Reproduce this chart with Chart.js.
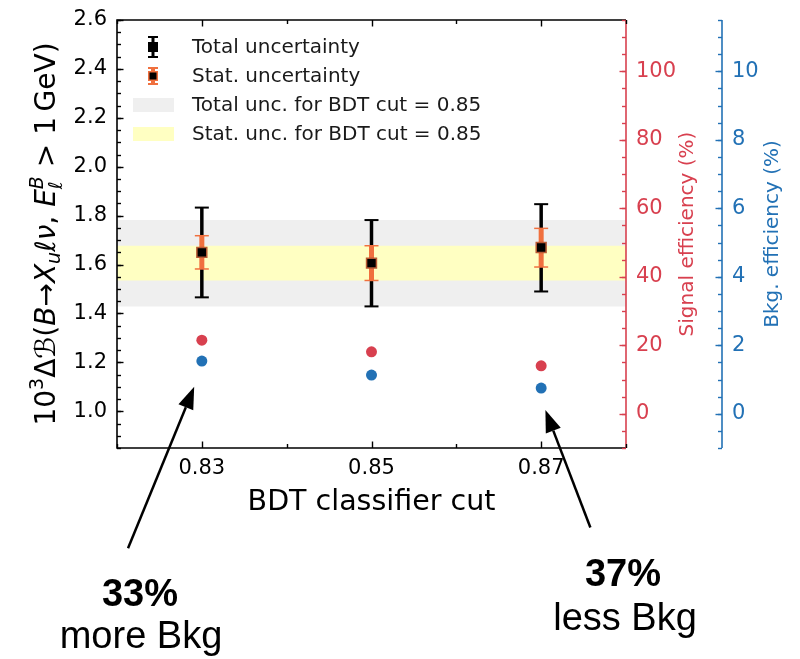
<!DOCTYPE html>
<html lang="en">
<head>
<meta charset="UTF-8">
<title>BDT cut scan</title>
<script src="https://cdn.jsdelivr.net/npm/chart.js"></script>
<style>
  html, body { margin: 0; padding: 0; background: #fff; }
</style>
</head>
<body>
<canvas id="chart" width="800" height="659"></canvas>
<script>
// values
const cuts = [0.83, 0.85, 0.87];
const central = [1.650, 1.606, 1.670];
const totalLow = [1.466, 1.429, 1.490];
const totalHigh = [1.833, 1.782, 1.847];
const statLow = [1.582, 1.535, 1.590];
const statHigh = [1.718, 1.677, 1.748];
const signalEff = [21.5, 18.1, 14.0];
const bkgEff = [1.54, 1.13, 0.75];
const refIndex = 1; // bands are the 0.85 cut

const xTicks = [0.83, 0.85, 0.87];
const leftTicks = [1.0, 1.2, 1.4, 1.6, 1.8, 2.0, 2.2, 2.4, 2.6];
const sigTicks = [0, 20, 40, 60, 80, 100];
const bkgTicks = [0, 2, 4, 6, 8, 10];
const legendLabels = ["Total uncertainty", "Stat. uncertainty",
    "Total unc. for BDT cut = 0.85", "Stat. unc. for BDT cut = 0.85"];

const RED = "#d8404f";
const BLUE = "#2271b5";
const ORANGE = "#f0703e";
const GREY_BAND = "#efefef";
const YELLOW_BAND = "#ffffc2";
const FONT = "'DejaVu Sans', sans-serif";

function steps(a, b, s) {
    let out = [];
    for (let i = 0; a + i * s <= b + 1e-9; i++) out.push(+(a + i * s).toFixed(4));
    return out;
}

function drawErrorBars(chart) {
    const ctx = chart.ctx, x = chart.scales.x, y = chart.scales.y;
    ctx.save();
    cuts.forEach((c, i) => {
        const px = x.getPixelForValue(c);
        // total
        ctx.strokeStyle = "#000";
        ctx.lineWidth = 3.5;
        ctx.beginPath();
        ctx.moveTo(px, y.getPixelForValue(totalLow[i]));
        ctx.lineTo(px, y.getPixelForValue(totalHigh[i]));
        ctx.stroke();
        ctx.lineWidth = 2;
        [totalLow[i], totalHigh[i]].forEach(v => {
            const py = y.getPixelForValue(v);
            ctx.beginPath(); ctx.moveTo(px - 7, py); ctx.lineTo(px + 7, py); ctx.stroke();
        });
        // stat
        ctx.strokeStyle = ORANGE;
        ctx.lineWidth = 5;
        ctx.beginPath();
        ctx.moveTo(px, y.getPixelForValue(statLow[i]));
        ctx.lineTo(px, y.getPixelForValue(statHigh[i]));
        ctx.stroke();
        ctx.lineWidth = 1.5;
        [statLow[i], statHigh[i]].forEach(v => {
            const py = y.getPixelForValue(v);
            ctx.beginPath(); ctx.moveTo(px - 7, py); ctx.lineTo(px + 7, py); ctx.stroke();
        });
    });
    ctx.restore();
}

// rich text: segments {t, size, italic, dy, stack}
function richWidth(ctx, segs) {
    let w = 0;
    segs.forEach(s => {
        ctx.font = (s.italic ? "italic " : "") + s.size + "px " + FONT;
        let sw = ctx.measureText(s.t).width;
        if (s.stack) {
            ctx.font = (s.stack.italic ? "italic " : "") + s.stack.size + "px " + FONT;
            sw = Math.max(sw, ctx.measureText(s.stack.t).width);
        }
        w += sw;
    });
    return w;
}
function drawRich(ctx, segs, cx, by) {
    let x = cx - richWidth(ctx, segs) / 2;
    ctx.textAlign = "left";
    ctx.textBaseline = "alphabetic";
    segs.forEach(s => {
        ctx.font = (s.italic ? "italic " : "") + s.size + "px " + FONT;
        let sw = ctx.measureText(s.t).width;
        ctx.fillText(s.t, x, by + (s.dy || 0));
        if (s.stack) {
            ctx.font = (s.stack.italic ? "italic " : "") + s.stack.size + "px " + FONT;
            sw = Math.max(sw, ctx.measureText(s.stack.t).width);
            ctx.fillText(s.stack.t, x, by + s.stack.dy);
        }
        x += sw;
    });
}

function drawArrow(ctx, x0, y0, x1, y1) {
    const ang = Math.atan2(y1 - y0, x1 - x0), L = 22, W = 8;
    const bx = x1 - L * Math.cos(ang), by = y1 - L * Math.sin(ang);
    ctx.strokeStyle = "#000"; ctx.fillStyle = "#000"; ctx.lineWidth = 2.5;
    ctx.beginPath(); ctx.moveTo(x0, y0); ctx.lineTo(bx, by); ctx.stroke();
    ctx.beginPath();
    ctx.moveTo(x1, y1);
    ctx.lineTo(bx + W * Math.sin(ang), by - W * Math.cos(ang));
    ctx.lineTo(bx - W * Math.sin(ang), by + W * Math.cos(ang));
    ctx.closePath(); ctx.fill();
}

const decor = {
    id: "decor",
    afterDatasetDraw(chart, args) {
        if (chart.data.datasets[args.index].tag === "statBand") drawErrorBars(chart);
    },
    afterDraw(chart) {
        const ctx = chart.ctx, a = chart.chartArea;
        const x = chart.scales.x, y = chart.scales.y, ys = chart.scales.ySig, yb = chart.scales.yBkg;
        const blueX = a.right + 96;
        ctx.save();

        // spines
        ctx.lineWidth = 1.6;
        ctx.strokeStyle = "#000";
        ctx.beginPath();
        ctx.moveTo(a.right, a.top); ctx.lineTo(a.left, a.top);
        ctx.lineTo(a.left, a.bottom); ctx.lineTo(a.right, a.bottom);
        ctx.stroke();
        ctx.strokeStyle = RED;
        ctx.beginPath(); ctx.moveTo(a.right, a.top); ctx.lineTo(a.right, a.bottom); ctx.stroke();
        ctx.strokeStyle = BLUE;
        ctx.beginPath(); ctx.moveTo(blueX, a.top); ctx.lineTo(blueX, a.bottom); ctx.stroke();

        // ticks (pointing inwards)
        const vt = (sc, xs, vals, len, dir, col) => {
            ctx.strokeStyle = col; ctx.lineWidth = 1.4;
            vals.forEach(v => {
                const py = Math.round(sc.getPixelForValue(v)) + 0.5;
                if (py < a.top - 1 || py > a.bottom + 1) return;
                ctx.beginPath(); ctx.moveTo(xs, py); ctx.lineTo(xs + dir * len, py); ctx.stroke();
            });
        };
        vt(y, a.left, steps(0.85, 2.6, 0.05), 4, 1, "#000");
        vt(y, a.left, leftTicks, 6.5, 1, "#000");
        vt(ys, a.right, steps(-10, 115, 5), 4, -1, RED);
        vt(ys, a.right, sigTicks, 6.5, -1, RED);
        vt(yb, blueX, steps(-1, 11.5, 0.5), 4, -1, BLUE);
        vt(yb, blueX, bkgTicks, 6.5, -1, BLUE);
        ctx.strokeStyle = "#000";
        steps(0.82, 0.88, 0.01).forEach(v => {
            const px = Math.round(x.getPixelForValue(v)) + 0.5;
            const len = xTicks.some(t => Math.abs(t - v) < 1e-6) ? 6.5 : 4;
            ctx.beginPath(); ctx.moveTo(px, a.bottom); ctx.lineTo(px, a.bottom - len); ctx.stroke();
            ctx.beginPath(); ctx.moveTo(px, a.top); ctx.lineTo(px, a.top + len); ctx.stroke();
        });

        // tick labels
        ctx.font = "21px " + FONT;
        ctx.fillStyle = "#000";
        ctx.textAlign = "right"; ctx.textBaseline = "middle";
        leftTicks.forEach(v => ctx.fillText(v.toFixed(1), a.left - 10, y.getPixelForValue(v)));
        ctx.textAlign = "center";
        xTicks.forEach(v => ctx.fillText(v.toFixed(2), x.getPixelForValue(v), a.bottom + 21));
        ctx.textAlign = "left";
        ctx.fillStyle = RED;
        sigTicks.forEach(v => ctx.fillText(String(v), a.right + 10, ys.getPixelForValue(v)));
        ctx.fillStyle = BLUE;
        bkgTicks.forEach(v => ctx.fillText(String(v), blueX + 10, yb.getPixelForValue(v)));

        // axis titles
        const midY = (a.top + a.bottom) / 2;
        ctx.fillStyle = "#000";
        ctx.font = "28.5px " + FONT;
        ctx.textAlign = "center"; ctx.textBaseline = "alphabetic";
        ctx.fillText("BDT classifier cut", (a.left + a.right) / 2, a.bottom + 62);

        ctx.save();
        ctx.translate(55, midY); ctx.rotate(-Math.PI / 2);
        const S = 28, s = 19;
        drawRich(ctx, [
            { t: "10", size: S },
            { t: "3", size: s, dy: -12 },
            { t: "Δ", size: S },
            { t: "ℬ", size: S, italic: true },
            { t: "(", size: S },
            { t: "B", size: S, italic: true },
            { t: "→", size: S },
            { t: "X", size: S, italic: true },
            { t: "u", size: s, italic: true, dy: 5 },
            { t: "ℓν", size: S, italic: true },
            { t: ", ", size: S },
            { t: "E", size: S, italic: true },
            { t: "B", size: s, italic: true, dy: -12, stack: { t: "ℓ", size: s, italic: true, dy: 7 } },
            { t: " > 1\u2009GeV)", size: S }
        ], 0, 0);
        ctx.restore();

        ctx.font = "20px " + FONT;
        ctx.textAlign = "center"; ctx.textBaseline = "alphabetic";
        ctx.save();
        ctx.translate(693, midY); ctx.rotate(-Math.PI / 2);
        ctx.fillStyle = RED; ctx.fillText("Signal efficiency (%)", 0, 0);
        ctx.restore();
        ctx.save();
        ctx.translate(blueX + 56, midY); ctx.rotate(-Math.PI / 2);
        ctx.fillStyle = BLUE; ctx.fillText("Bkg. efficiency (%)", 0, 0);
        ctx.restore();

        // legend
        const lx = a.left + 36, tx = a.left + 75;
        const rows = [a.top + 27, a.top + 56, a.top + 85, a.top + 114];
        ctx.font = "20px " + FONT;
        ctx.fillStyle = "#1a1a1a"; ctx.textAlign = "left"; ctx.textBaseline = "middle";
        legendLabels.forEach((t, i) => ctx.fillText(t, tx, rows[i] + 1));
        const sym = (cy, col, lw, half) => {
            ctx.strokeStyle = col; ctx.lineWidth = lw;
            ctx.beginPath(); ctx.moveTo(lx, cy - half); ctx.lineTo(lx, cy + half); ctx.stroke();
            ctx.lineWidth = 2;
            [cy - half, cy + half].forEach(py => {
                ctx.beginPath(); ctx.moveTo(lx - 5, py); ctx.lineTo(lx + 5, py); ctx.stroke();
            });
        };
        sym(rows[0], "#000", 3, 10);
        ctx.fillStyle = "#000"; ctx.fillRect(lx - 5, rows[0] - 5, 10, 10);
        sym(rows[1], ORANGE, 4, 8);
        ctx.fillStyle = ORANGE; ctx.fillRect(lx - 5, rows[1] - 5, 10, 10);
        ctx.fillStyle = "#000"; ctx.fillRect(lx - 3.5, rows[1] - 3.5, 7, 7);
        ctx.fillStyle = GREY_BAND; ctx.fillRect(lx - 20, rows[2] - 7, 41, 14);
        ctx.fillStyle = YELLOW_BAND; ctx.fillRect(lx - 20, rows[3] - 7, 41, 14);
        ctx.restore();

        // annotations
        ctx.save();
        drawArrow(ctx, x.getPixelForValue(0.8213), y.getPixelForValue(0.44),
            x.getPixelForValue(0.8291), y.getPixelForValue(1.10));
        drawArrow(ctx, x.getPixelForValue(0.8758), y.getPixelForValue(0.525),
            x.getPixelForValue(0.8705), y.getPixelForValue(1.005));
        ctx.fillStyle = "#000";
        ctx.textAlign = "center"; ctx.textBaseline = "alphabetic";
        ctx.font = "bold 38px 'Liberation Sans', Arial, sans-serif";
        ctx.fillText("33%", 140, 606);
        ctx.fillText("37%", 623, 586);
        ctx.font = "38px 'Liberation Sans', Arial, sans-serif";
        ctx.fillText("more Bkg", 141, 648);
        ctx.fillText("less Bkg", 625, 630);
        ctx.restore();
    }
};

const refLow = totalLow[refIndex], refHigh = totalHigh[refIndex];
const refStatLow = statLow[refIndex], refStatHigh = statHigh[refIndex];

new Chart(document.getElementById("chart"), {
    type: "scatter",
    data: {
        datasets: [
            {
                tag: "totalBand", type: "line", order: 5,
                data: [{ x: 0.82, y: refHigh }, { x: 0.88, y: refHigh }],
                borderWidth: 0, pointRadius: 0, backgroundColor: GREY_BAND,
                fill: { value: refLow }
            },
            {
                tag: "statBand", type: "line", order: 4,
                data: [{ x: 0.82, y: refStatHigh }, { x: 0.88, y: refStatHigh }],
                borderWidth: 0, pointRadius: 0, backgroundColor: YELLOW_BAND,
                fill: { value: refStatLow }
            },
            {
                tag: "central", order: 2,
                data: cuts.map((c, i) => ({ x: c, y: central[i] })),
                pointStyle: "rect", pointRadius: 7,
                backgroundColor: "#000", borderColor: "#b85a34", borderWidth: 1.5
            },
            {
                tag: "signal", order: 1, yAxisID: "ySig",
                data: cuts.map((c, i) => ({ x: c, y: signalEff[i] })),
                pointRadius: 5.5, backgroundColor: RED, borderColor: RED, borderWidth: 0
            },
            {
                tag: "bkg", order: 0, yAxisID: "yBkg",
                data: cuts.map((c, i) => ({ x: c, y: bkgEff[i] })),
                pointRadius: 5.5, backgroundColor: BLUE, borderColor: BLUE, borderWidth: 0
            }
        ]
    },
    options: {
        responsive: false,
        animation: false,
        devicePixelRatio: 1,
        layout: { padding: { left: 117, top: 20, right: 174, bottom: 211 } },
        plugins: { legend: { display: false }, tooltip: { enabled: false } },
        scales: {
            x: { type: "linear", min: 0.82, max: 0.88, display: false },
            y: { type: "linear", min: 0.85, max: 2.6, display: false },
            ySig: { type: "linear", min: -10, max: 115, display: false },
            yBkg: { type: "linear", min: -1, max: 11.5, display: false }
        }
    },
    plugins: [decor]
});
</script>
</body>
</html>
